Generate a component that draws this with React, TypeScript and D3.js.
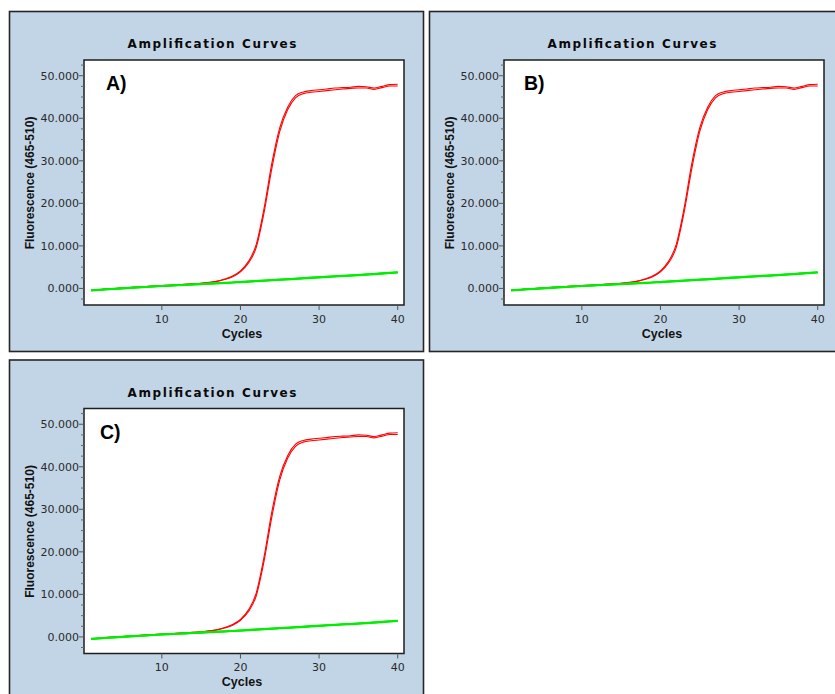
import React from 'react';
import * as d3 from 'd3';

// cycle numbers 1..40
const cycles = [1, 2, 3, 4, 5, 6, 7, 8, 9, 10, 11, 12, 13, 14, 15, 16, 17, 18, 19, 20,
    21, 22, 23, 24, 25, 26, 27, 28, 29, 30, 31, 32, 33, 34, 35, 36, 37, 38, 39, 40];

// two amplified replicates (red)
const redA = [-450, -300, -150, -20, 100, 220, 340, 450, 560, 660, 760, 860, 960, 1080, 1220, 1420, 1700, 2200, 2900, 4100,
    6300, 10300, 18800, 29500, 37800, 42600, 45300, 46200, 46500, 46700, 46900, 47100, 47200, 47300, 47500, 47400, 47100, 47500, 47900, 48000];
const redB = [-500, -330, -170, -40, 80, 200, 320, 430, 540, 640, 740, 840, 940, 1060, 1190, 1380, 1650, 2100, 2750, 3900,
    5900, 9600, 17800, 28300, 36900, 42000, 44800, 45800, 46100, 46300, 46500, 46700, 46900, 47000, 47100, 47100, 46800, 47200, 47600, 47600];

// non amplified samples (green)
const greenA = [-420, -300, -180, -60, 60, 180, 280, 380, 480, 600, 680, 760, 860, 960, 1060, 1150, 1240, 1330, 1420, 1560,
    1640, 1760, 1880, 1980, 2100, 2180, 2300, 2420, 2560, 2650, 2780, 2880, 2990, 3080, 3200, 3300, 3420, 3560, 3700, 3820];
const greenB = [-520, -380, -250, -150, -20, 90, 200, 310, 420, 520, 620, 700, 790, 890, 980, 1080, 1160, 1260, 1350, 1440,
    1560, 1680, 1780, 1880, 1990, 2090, 2210, 2330, 2430, 2540, 2670, 2780, 2880, 2980, 3080, 3210, 3330, 3450, 3580, 3720];
const greenC = [-460, -340, -200, -90, 30, 150, 260, 360, 470, 580, 670, 750, 840, 940, 1040, 1130, 1220, 1320, 1400, 1530,
    1620, 1740, 1850, 1960, 2070, 2160, 2280, 2400, 2520, 2620, 2750, 2850, 2960, 3060, 3170, 3280, 3400, 3530, 3660, 3790];

const yMajor = [0, 10000, 20000, 30000, 40000, 50000];
const yMinor = [-2500, 2500, 5000, 7500, 12500, 15000, 17500, 22500, 25000, 27500, 32500, 35000, 37500, 42500, 45000, 47500, 52500];
const xTicks = [10, 20, 30, 40];

const panels = [
    { letter: 'A)', ox: 0, oy: 0, lx: 106 },
    { letter: 'B)', ox: 420, oy: 0, lx: 104 },
    { letter: 'C)', ox: 0, oy: 348.5, lx: 100 },
];

const BG = '#c2d5e6';
const fmt = (v: number) => d3.format(',.3f')(v / 1000);

const Panel = ({ letter, ox, oy, lx }: { letter: string; ox: number; oy: number; lx: number }) => {
    const left = ox + 84, right = ox + 404, top = oy + 60, bottom = oy + 305;
    const x = d3.scaleLinear().domain([0.1, 40.8]).range([left, right]);
    const y = d3.scaleLinear().domain([-3900, 53700]).range([bottom, top]);

    const smooth = (vals: number[]) => d3.line<number>()
        .x((_, i) => x(cycles[i]))
        .y(d => y(d))
        .curve(d3.curveMonotoneX)(vals) || '';
    const straight = (vals: number[]) => d3.line<number>()
        .x((_, i) => x(cycles[i]))
        .y(d => y(d))(vals) || '';

    const clipId = `clip-${ox}-${Math.round(oy)}`;

    return (
        <g>
            <rect x={ox + 9.5} y={oy + 11.5} width={414} height={340} fill={BG} stroke="#262626" strokeWidth={1.6} />
            <text x={ox + 212} y={oy + 48} textAnchor="middle" fontFamily="DejaVu Sans" fontWeight="bold"
                fontSize={12} textLength={169} lengthAdjust="spacing" fill="#0a0a0a">Amplification Curves</text>

            <clipPath id={clipId}>
                <rect x={left} y={top} width={right - left} height={bottom - top} />
            </clipPath>
            <rect x={left} y={top} width={right - left} height={bottom - top} fill="#fff" />

            <g clipPath={`url(#${clipId})`}>
                {[redA, redB].map((s, i) => (
                    <path key={'r' + i} d={smooth(s)} fill="none" stroke="#ff0000" strokeWidth={1.1} />
                ))}
                {[greenA, greenB, greenC].map((s, i) => (
                    <path key={'g' + i} d={straight(s)} fill="none" stroke="#00ee00" strokeWidth={1.8} />
                ))}
            </g>
            <rect x={left} y={top} width={right - left} height={bottom - top} fill="none" stroke="#1e1e1e" strokeWidth={1.5} />

            {yMinor.map(t => (
                <line key={'m' + t} x1={left - 3} x2={left} y1={y(t)} y2={y(t)} stroke="#666" />
            ))}
            {yMajor.map(t => (
                <g key={'y' + t}>
                    <line x1={left - 5} x2={left} y1={y(t)} y2={y(t)} stroke="#555" />
                    <text x={left - 5} y={y(t) + 4} textAnchor="end" fontFamily="DejaVu Sans" fontSize={11} fill="#2a2a2a">{fmt(t)}</text>
                </g>
            ))}
            {xTicks.map(t => (
                <g key={'x' + t}>
                    <line x1={x(t)} x2={x(t)} y1={bottom} y2={bottom + 5} stroke="#555" />
                    <text x={x(t)} y={bottom + 17.5} textAnchor="middle" fontFamily="DejaVu Sans" fontSize={11} fill="#2a2a2a">{t}</text>
                </g>
            ))}

            <text x={ox + 242} y={oy + 337.5} textAnchor="middle" fontFamily="Liberation Sans" fontWeight="bold" fontSize={12.5} fill="#111">Cycles</text>
            <text transform={`translate(${ox + 33.5},${oy + 183}) rotate(-90)`} textAnchor="middle" fontFamily="Liberation Sans"
                fontWeight="bold" fontSize={12} fill="#111">Fluorescence (465-510)</text>

            <text x={ox + lx} y={oy + 90} fontFamily="Liberation Sans" fontWeight="bold" fontSize={19.5} fill="#000">{letter}</text>
        </g>
    );
};

export default function App() {
    return (
        <svg width={835} height={694} style={{ position: 'absolute', left: 0, top: 0, background: '#fff' }}>
            {panels.map(p => <Panel key={p.letter} {...p} />)}
        </svg>
    );
}
